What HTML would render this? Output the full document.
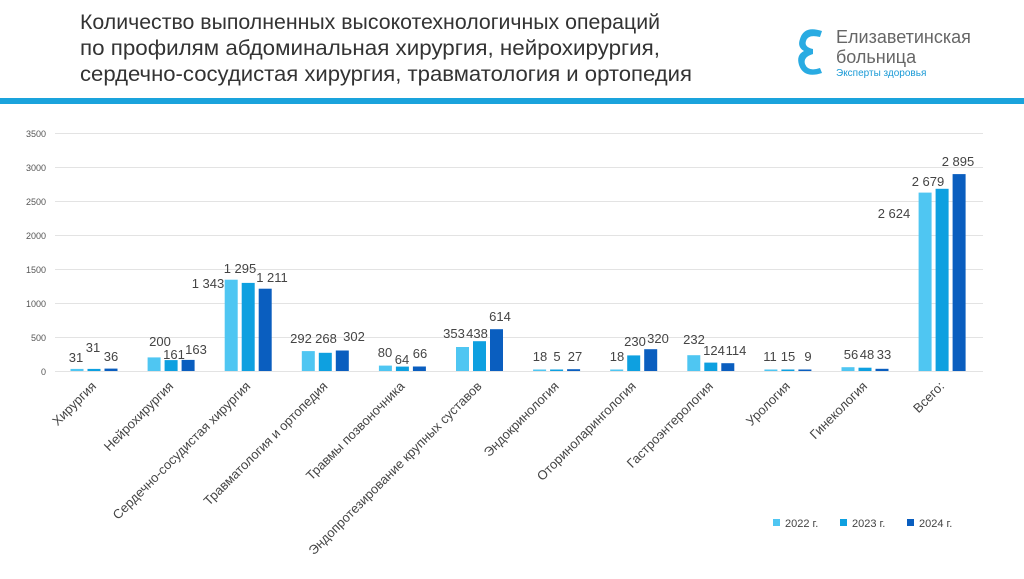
<!DOCTYPE html>
<html><head><meta charset="utf-8"><style>
body{margin:0;width:1024px;height:574px;background:#fff;overflow:hidden;font-family:"Liberation Sans",sans-serif}
</style></head><body>
<svg width="1024" height="574" xmlns="http://www.w3.org/2000/svg" font-family="Liberation Sans, sans-serif">
<g fill="#333" font-size="21">
<text x="80" y="29" textLength="580" lengthAdjust="spacingAndGlyphs">Количество выполненных высокотехнологичных операций</text>
<text x="80" y="55" textLength="580" lengthAdjust="spacingAndGlyphs">по профилям абдоминальная хирургия, нейрохирургия,</text>
<text x="80" y="81" textLength="612" lengthAdjust="spacingAndGlyphs">сердечно-сосудистая хирургия, травматология и ортопедия</text>
</g>
<g>
<path d="M822 31 q-18 -6 -22 8 q-3 8 4 12 q-8 4 -5 14 q5 14 23 8 l-2 -5 q-12 4 -15 -4 q-2 -7 8 -10 l0 -5 q-9 -2 -7 -8 q2 -7 14 -4 z" fill="#29abe2"/>
<text x="836" y="43" font-size="18" fill="#666">Елизаветинская</text>
<text x="836" y="63" font-size="18" fill="#666">больница</text>
<text x="836" y="76" font-size="10" fill="#1a9ad6">Эксперты здоровья</text>
</g>
<rect x="0" y="98" width="1024" height="6" fill="#1aa3dc"/>
<g stroke="#e3e3e3" stroke-width="1">
<line x1="55" x2="983" y1="133.5" y2="133.5"/><line x1="55" x2="983" y1="167.5" y2="167.5"/>
<line x1="55" x2="983" y1="201.5" y2="201.5"/><line x1="55" x2="983" y1="235.5" y2="235.5"/>
<line x1="55" x2="983" y1="269.5" y2="269.5"/><line x1="55" x2="983" y1="303.5" y2="303.5"/>
<line x1="55" x2="983" y1="337.5" y2="337.5"/><line x1="55" x2="983" y1="371.5" y2="371.5"/>
</g>
<g font-size="9" fill="#555" text-anchor="end">
<text x="46" y="137">3500</text><text x="46" y="171">3000</text><text x="46" y="205">2500</text>
<text x="46" y="239">2000</text><text x="46" y="273">1500</text><text x="46" y="307">1000</text>
<text x="46" y="341">500</text><text x="46" y="375">0</text>
</g>
<g fill="#4fc6f2">
<rect x="70.5" y="368.9" width="13" height="2.1"/>
<rect x="147.6" y="357.4" width="13" height="13.6"/>
<rect x="224.7" y="279.7" width="13" height="91.3"/>
<rect x="301.8" y="351.1" width="13" height="19.9"/>
<rect x="378.9" y="365.6" width="13" height="5.4"/>
<rect x="456" y="347" width="13" height="24"/>
<rect x="533.1" y="369.5" width="13" height="1.5"/>
<rect x="610.2" y="369.5" width="13" height="1.5"/>
<rect x="687.3" y="355.2" width="13" height="15.8"/>
<rect x="764.4" y="369.5" width="13" height="1.5"/>
<rect x="841.5" y="367.2" width="13" height="3.8"/>
<rect x="918.6" y="192.6" width="13" height="178.4"/>
</g>
<g fill="#0ea0e0">
<rect x="87.5" y="368.9" width="13" height="2.1"/>
<rect x="164.6" y="360.1" width="13" height="10.9"/>
<rect x="241.7" y="282.9" width="13" height="88.1"/>
<rect x="318.8" y="352.8" width="13" height="18.2"/>
<rect x="395.9" y="366.6" width="13" height="4.4"/>
<rect x="473" y="341.2" width="13" height="29.8"/>
<rect x="550.1" y="369.5" width="13" height="1.5"/>
<rect x="627.2" y="355.4" width="13" height="15.6"/>
<rect x="704.3" y="362.6" width="13" height="8.4"/>
<rect x="781.4" y="369.5" width="13" height="1.5"/>
<rect x="858.5" y="367.7" width="13" height="3.3"/>
<rect x="935.6" y="188.8" width="13" height="182.2"/>
</g>
<g fill="#0a5ebf">
<rect x="104.5" y="368.6" width="13" height="2.4"/>
<rect x="181.6" y="359.9" width="13" height="11.1"/>
<rect x="258.7" y="288.7" width="13" height="82.3"/>
<rect x="335.8" y="350.5" width="13" height="20.5"/>
<rect x="412.9" y="366.5" width="13" height="4.5"/>
<rect x="490" y="329.2" width="13" height="41.8"/>
<rect x="567.1" y="369.2" width="13" height="1.8"/>
<rect x="644.2" y="349.2" width="13" height="21.8"/>
<rect x="721.3" y="363.2" width="13" height="7.8"/>
<rect x="798.4" y="369.5" width="13" height="1.5"/>
<rect x="875.5" y="368.8" width="13" height="2.2"/>
<rect x="952.6" y="174.1" width="13" height="196.9"/>
</g>
<g font-size="13" fill="#444" text-anchor="middle">
<text x="76" y="362">31</text><text x="93" y="352">31</text><text x="111" y="361">36</text>
<text x="160" y="346">200</text><text x="174" y="359">161</text><text x="196" y="354">163</text>
<text x="208" y="288">1 343</text><text x="240" y="273">1 295</text><text x="272" y="282">1 211</text>
<text x="301" y="343">292</text><text x="326" y="343">268</text><text x="354" y="341">302</text>
<text x="385" y="357">80</text><text x="402" y="364">64</text><text x="420" y="358">66</text>
<text x="454" y="338">353</text><text x="477" y="338">438</text><text x="500" y="321">614</text>
<text x="540" y="361">18</text><text x="557" y="361">5</text><text x="575" y="361">27</text>
<text x="617" y="361">18</text><text x="635" y="346">230</text><text x="658" y="343">320</text>
<text x="694" y="344">232</text><text x="714" y="355">124</text><text x="736" y="355">114</text>
<text x="770" y="361">11</text><text x="788" y="361">15</text><text x="808" y="361">9</text>
<text x="851" y="359">56</text><text x="867" y="359">48</text><text x="884" y="359">33</text>
<text x="894" y="218">2 624</text><text x="928" y="186">2 679</text><text x="958" y="166">2 895</text>
</g>
<g font-size="13" fill="#444" text-anchor="end">
<text transform="translate(97,387) rotate(-45)">Хирургия</text>
<text transform="translate(174.1,387) rotate(-45)">Нейрохирургия</text>
<text transform="translate(251.2,387) rotate(-45)">Сердечно-сосудистая хирургия</text>
<text transform="translate(328.3,387) rotate(-45)">Травматология и ортопедия</text>
<text transform="translate(405.4,387) rotate(-45)">Травмы позвоночника</text>
<text transform="translate(482.5,387) rotate(-45)">Эндопротезирование крупных суставов</text>
<text transform="translate(559.6,387) rotate(-45)">Эндокринология</text>
<text transform="translate(636.7,387) rotate(-45)">Оториноларингология</text>
<text transform="translate(713.8,387) rotate(-45)">Гастроэнтерология</text>
<text transform="translate(790.9,387) rotate(-45)">Урология</text>
<text transform="translate(868,387) rotate(-45)">Гинекология</text>
<text transform="translate(945.1,387) rotate(-45)">Всего:</text>
</g>
<g font-size="11" fill="#444">
<rect x="773" y="519" width="7" height="7" fill="#4fc6f2"/><text x="785" y="527">2022 г.</text>
<rect x="840" y="519" width="7" height="7" fill="#0ea0e0"/><text x="852" y="527">2023 г.</text>
<rect x="907" y="519" width="7" height="7" fill="#0a5ebf"/><text x="919" y="527">2024 г.</text>
</g>
</svg>
</body></html>
